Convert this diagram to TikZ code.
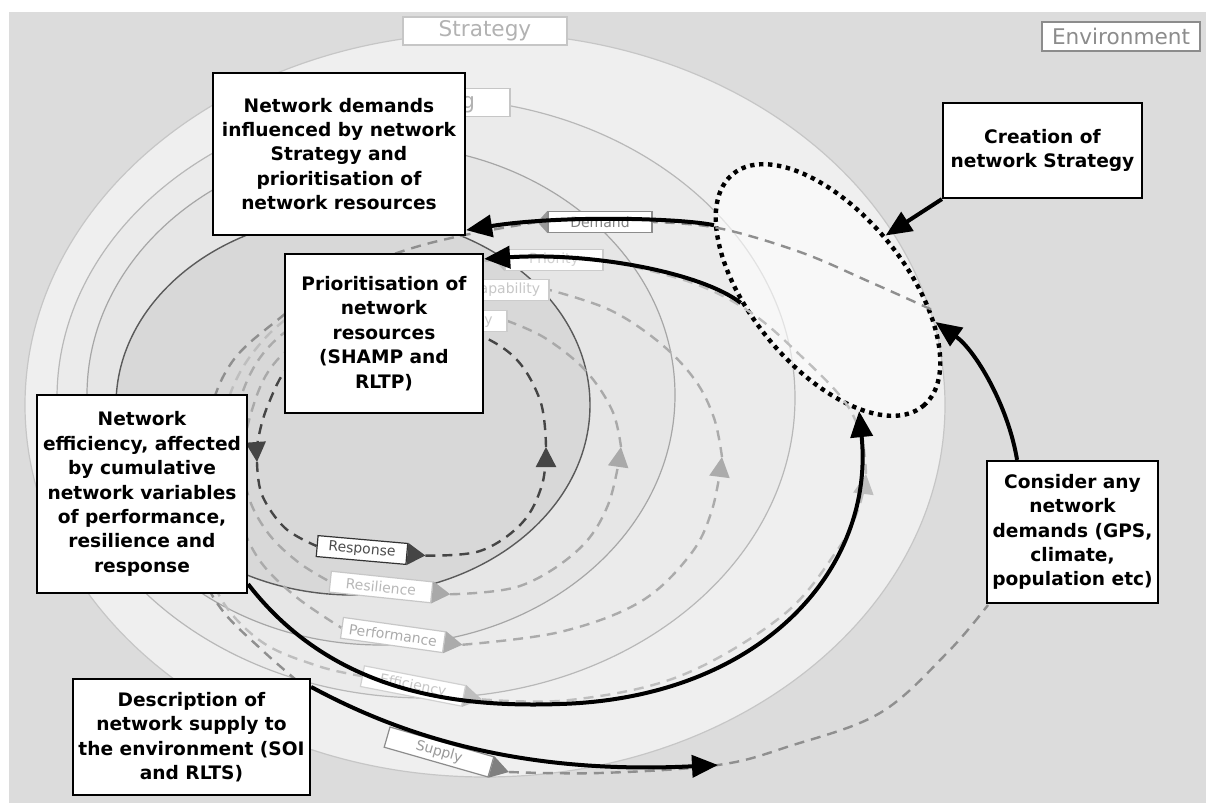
\documentclass[tikz,border=0pt]{standalone}
\usepackage{fontspec}
\setmainfont{DejaVu Sans}
\usetikzlibrary{shapes.geometric,arrows.meta,calc}
\pgfdeclarelayer{rings}
\pgfdeclarelayer{loops}
\pgfsetlayers{rings,loops,main}

\definecolor{bgc}{HTML}{DCDCDC}
\definecolor{ringA}{HTML}{EFEFEF}\definecolor{ringAl}{HTML}{C6C6C6}
\definecolor{ringB}{HTML}{EBEBEB}\definecolor{ringBl}{HTML}{B8B8B8}
\definecolor{ringC}{HTML}{E6E6E6}\definecolor{ringCl}{HTML}{A6A6A6}
\definecolor{ringD}{HTML}{D8D8D8}\definecolor{ringDl}{HTML}{5A5A5A}
\definecolor{lpA}{HTML}{454545}
\definecolor{lpB}{HTML}{A9A9A9}
\definecolor{lpC}{HTML}{ABABAB}
\definecolor{lpD}{HTML}{BEBEBE}
\definecolor{lpE}{HTML}{8F8F8F}

% filled tip on the east / west end of a ring tag
\newcommand\ringtagE[3]{\fill[#2] (#1.north east) -- ($(#1.east)!-#3!(#1.center)$) coordinate (#1tip) -- (#1.south east) -- cycle;}
\newcommand\ringtagW[3]{\fill[#2] (#1.north west) -- ($(#1.west)!-#3!(#1.center)$) coordinate (#1tip) -- (#1.south west) -- cycle;}

\begin{document}
\begin{tikzpicture}[x=0.5pt,y=-0.5pt,
  box/.style={draw=black, line width=1.1pt, fill=white, align=center, inner sep=0pt,
    font=\fontsize{9.3}{12.2}\selectfont\bfseries},
  tag/.style={draw, fill=white, line width=0.6pt, inner sep=0pt, minimum height=10.5pt,
    font=\fontsize{7}{8}\selectfont},
  title/.style={draw, fill=white, line width=0.7pt, inner sep=0pt, minimum height=14pt,
    font=\fontsize{10.8}{12}\selectfont},
  blk/.style={line width=2pt, -{Triangle[length=13pt,width=11pt]}},
  lp/.style={line width=1.2pt, dash pattern=on 5pt off 3.5pt},
  lpa/.style={lp, -{Triangle[length=10pt,width=10pt]}},
  sm/.style={smooth, tension=0.6}]

\useasboundingbox (0,0) rectangle (1206,803);

% ---------- background and nested rings ----------
\begin{pgfonlayer}{rings}
  \fill[white] (0,0) rectangle (1206,803);
  \fill[bgc] (9,12) rectangle (1206,803);
  \filldraw[fill=ringA, draw=ringAl, line width=0.6pt] (485,405) ellipse [x radius=460, y radius=372];
  \filldraw[fill=ringB, draw=ringBl, line width=0.6pt] (426,398) ellipse [x radius=369, y radius=300];
  \filldraw[fill=ringC, draw=ringCl, line width=0.6pt] (381,395) ellipse [x radius=294, y radius=250];
  \filldraw[fill=ringD, draw=ringDl, line width=0.7pt] (353,405) ellipse [x radius=237, y radius=190];
\end{pgfonlayer}

% ---------- ring titles ----------
\node[title, draw=ringAl, text=black!30, minimum width=82pt] (strat) at (485,31) {Strategy};
\node[title, draw=ringAl, text=black!30, minimum width=81.5pt] (plan) at (428.5,102.5) {Planning};
\node[title, draw=black!45, text=black!45, minimum width=79pt, minimum height=14.5pt] (env) at (1121,36.5) {Environment};

% ---------- ring tags ----------
\node[tag, draw=black!45, text=black!50, minimum width=52pt] (dem) at (600,222) {Demand};
\ringtagW{dem}{black!40}{5pt}
\node[tag, draw=black!20, text=black!18, minimum width=49pt] (pri) at (554,260) {Priority};
\ringtagW{pri}{black!25}{5pt}
\node[tag, draw=black!20, text=black!22, minimum width=44pt] (cap) at (505,290) {Capability};
\ringtagW{cap}{black!25}{5pt}
\node[tag, draw=black!20, text=black!22, minimum width=45pt] (cpc) at (462,321) {Capacity};
\ringtagW{cpc}{black!25}{5pt}

\node[tag, draw=black!80, text=black!70, minimum width=45pt, rotate=-5] (resp) at (362,550) {Response};
\ringtagE{resp}{lpA}{9pt}
\node[tag, draw=black!22, text=black!28, minimum width=51pt, rotate=-6] (resi) at (381,587) {Resilience};
\ringtagE{resi}{lpB}{9pt}
\node[tag, draw=black!22, text=black!33, minimum width=51.5pt, rotate=-8] (perf) at (393,635) {Performance};
\ringtagE{perf}{lpC}{9pt}
\node[tag, draw=black!18, text=black!22, minimum width=51.5pt, rotate=-11] (effi) at (413,686) {Efficiency};
\ringtagE{effi}{lpD}{9pt}
\node[tag, draw=black!45, text=black!40, minimum width=54pt, rotate=-16] (supp) at (439,752) {Supply};
\ringtagE{supp}{black!50}{9pt}

\coordinate (supplyend) at (718,765);
\coordinate (consentry) at (988,605);
\coordinate (descentry) at (295,679);

% ---------- strategy ellipse and dashed loops ----------
\begin{pgfonlayer}{loops}
  \node[ellipse, rotate=-50.6, minimum width=150pt, minimum height=77pt, inner sep=0pt,
        fill=white, fill opacity=0.6, draw=black, draw opacity=1, line width=2.2pt,
        dash pattern=on 2.2pt off 2.3pt] (dot) at (828,290) {};

  % response loop
  \draw[lpa, lpA] plot[sm] coordinates {(resptip) (480,551) (522,523) (542,485) (546,447)};
  \draw[lpa, lpA] plot[sm] coordinates {(546,447) (540,400) (512,355) (460,328) (400,322) (335,335) (290,365) (268,405) (258,440) (257,462)};
  \draw[lp, lpA] plot[sm] coordinates {(257,462) (262,495) (285,528) (resp.west)};

  % resilience / capacity loop
  \draw[lpa, lpB] plot[sm] coordinates {(resitip) (520,586) (578,550) (608,505) (621,447)};
  \draw[lp, lpB] plot[sm] coordinates {(621,447) (612,410) (585,370) (545,338) (cpc.east)};
  \draw[lp, lpB] plot[sm] coordinates {(cpctip) (340,327) (295,345) (268,372) (252,410) (244,450) (248,495) (268,533) (298,562) (resi.west)};

  % performance / capability loop
  \draw[lpa, lpC] plot[sm] coordinates {(perftip) (560,632) (640,602) (690,555) (712,510) (722,457)};
  \draw[lp, lpC] plot[sm] coordinates {(722,457) (714,418) (695,380) (660,343) (610,310) (cap.east)};
  \draw[lp, lpC] plot[sm] coordinates {(captip) (360,296) (300,322) (262,355) (240,400) (233,450) (238,510) (258,558) (295,596) (perf.west)};

  % efficiency / priority loop
  \draw[lpa, lpD] plot[sm] coordinates {(effitip) (570,700) (680,676) (782,616) (836,552) (858,510) (866,474)};
  \draw[lp, lpD] plot[sm] coordinates {(866,474) (862,440) (845,402) (800,355) (750,312) (690,282) (pri.east)};
  \draw[lp, lpD] plot[sm] coordinates {(pritip) (380,276) (300,310) (255,350) (228,400) (214,470) (210,545) (220,597) (262,642) (318,666) (effi.west)};

  % supply / demand loop
  \draw[lp, lpE] plot[sm] coordinates {(dot.40) (870,282) (800,252) (718,228) (dem.east)};
  \draw[lp, lpE] plot[sm] coordinates {(demtip) (460,236) (400,252) (335,278) (280,318) (232,362) (208,420) (198,500) (203,570) (222,610) (262,650) (descentry)};
  \draw[lp, lpE] plot[sm] coordinates {(supptip) (600,773) (supplyend) (790,746) (880,713) (947,653) (consentry)};
\end{pgfonlayer}

% ---------- text boxes ----------
\node[box, minimum width=126pt, minimum height=81pt] (nd) at (339,154)
  {Network demands\\influenced by network\\Strategy and\\prioritisation of\\network resources};
\node[box, minimum width=99pt, minimum height=79.5pt] (pr) at (384,333.5)
  {Prioritisation of\\network\\resources\\(SHAMP and\\RLTP)};
\node[box, minimum width=105pt, minimum height=99pt] (ne) at (142,494)
  {Network\\efficiency, affected\\by cumulative\\network variables\\of performance,\\resilience and\\response};
\node[box, minimum width=118.5pt, minimum height=58pt] (de) at (191.5,737)
  {Description of\\network supply to\\the environment (SOI\\and RLTS)};
\node[box, minimum width=99.5pt, minimum height=47.5pt] (cr) at (1042.5,150.5)
  {Creation of\\network Strategy};
\node[box, minimum width=85.5pt, minimum height=71pt] (co) at (1072.5,532)
  {Consider any\\network\\demands (GPS,\\climate,\\population etc)};

% ---------- main flow arrows ----------
\draw[blk] (cr.south west) -- (dot.94);
\draw[blk] ($(co.north west)!0.18!(co.north east)$) .. controls (1008,405) and (975,350) .. (dot.34);
\draw[blk] (dot.201) .. controls (680,218) and (560,215) .. ($(nd.south east)+(0,-6)$);
\draw[blk] (dot.239) .. controls (700,272) and (590,252) .. ($(pr.north east)+(0,6)$);
\draw[blk] ($(ne.south east)+(0,-10)$) .. controls (330,690) and (450,708) .. (560,704)
  .. controls (760,698) and (875,570) .. (dot.-25);
\draw[blk] ($(de.north east)+(0,9)$) .. controls (400,735) and (520,775) .. (supplyend);
\end{tikzpicture}
\end{document}
